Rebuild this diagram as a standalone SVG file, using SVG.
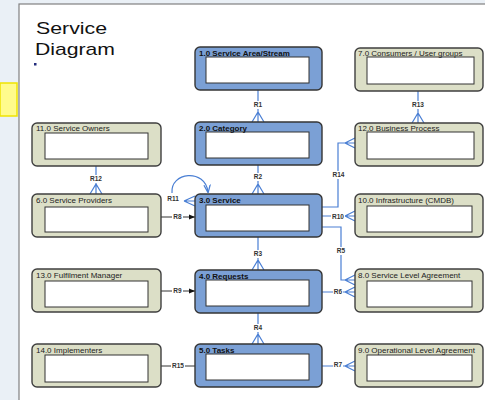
<svg xmlns="http://www.w3.org/2000/svg" width="485" height="400" viewBox="0 0 485 400" xml:space="preserve">
  <defs>
    <style>
      .blue { fill: #7ba0d5; stroke: #353535; stroke-width: 1.4; }
      .green { fill: #dcdfc7; stroke: #3f3f3f; stroke-width: 1.4; }
      .inner { fill: #ffffff; stroke: #333333; stroke-width: 1; }
      .bt { font-family: "Liberation Sans", Arial, sans-serif; font-size: 8px; font-weight: bold; fill: #111; }
      .gt { font-family: "Liberation Sans", Arial, sans-serif; font-size: 8px; fill: #222; }
      .rel { fill: none; stroke: #4a7fd4; stroke-width: 1.2; }
      .arr { fill: none; stroke: #333; stroke-width: 1; }
      .lbl { font-family: "Liberation Sans", Arial, sans-serif; font-size: 6.5px; font-weight: bold; fill: #333; text-anchor: middle; }
      .lblbg { fill: #ffffff; }
    </style>
    <marker id="tip" viewBox="0 0 10 10" refX="10" refY="5" markerWidth="6" markerHeight="6" orient="auto" markerUnits="userSpaceOnUse">
      <path d="M0,1 L10,5 L0,9 Z" fill="#111"/>
    </marker>
    <marker id="tipBlue" viewBox="0 0 10 10" refX="9" refY="5" markerWidth="8" markerHeight="8" orient="auto" markerUnits="userSpaceOnUse">
      <path d="M0,1 L10,5 L0,9" fill="none" stroke="#4a7fd4" stroke-width="1.6"/>
    </marker>
  </defs>

  <!-- page backdrop and frame -->
  <rect x="0" y="0" width="485" height="400" fill="#eaf0f6"/>
  <rect x="19" y="4" width="470" height="400" fill="#ffffff" stroke="#808080" stroke-width="1.2"/>
  <rect x="0" y="83" width="17" height="33" fill="#fffb8c" stroke="#f0e400" stroke-width="1.5"/>

  <!-- title -->
  <text x="36" y="34" font-family="'Liberation Sans', Arial, sans-serif" font-size="17" fill="#111" textLength="71" lengthAdjust="spacingAndGlyphs">Service</text>
  <text x="35" y="55" font-family="'Liberation Sans', Arial, sans-serif" font-size="17" fill="#111" textLength="80" lengthAdjust="spacingAndGlyphs">Diagram</text>
  <rect x="34" y="63" width="2.5" height="2.5" fill="#232c7c"/>

  <!-- connectors -->
  <g id="connectors">
    <!-- vertical relations in the centre column -->
    <path class="rel" d="M258,90 V122 M252,122 L258,112 L264,122"/>
    <path class="rel" d="M258,165 V194 M252,194 L258,184 L264,194"/>
    <path class="rel" d="M258,237 V270 M252,270 L258,260 L264,270"/>
    <path class="rel" d="M258,313 V344 M252,344 L258,334 L264,344"/>
    <!-- R12 -->
    <path class="rel" d="M96,166 V194 M90,194 L96,184 L102,194"/>
    <!-- R13 -->
    <path class="rel" d="M418,91 V123 M412,123 L418,113 L424,123"/>
    <!-- R14 -->
    <path class="rel" d="M322,207 H338 V143 H355 M355,138 L345,143 L355,148"/>
    <!-- R10 -->
    <path class="rel" d="M322,216 H355 M355,211 L345,216 L355,221"/>
    <!-- R5 -->
    <path class="rel" d="M322,227 H341 V280 H355 M355,275 L345,280 L355,285"/>
    <!-- R6 -->
    <path class="rel" d="M322,292 H355 M355,287 L345,292 L355,297"/>
    <!-- R7 -->
    <path class="rel" d="M322,366 H355 M355,361 L345,366 L355,371"/>
    <!-- R11 self relation -->
    <path class="rel" d="M184,201 L195,196 M184,201 H195 M184,201 L195,206"/>
    <path class="rel" d="M172,193 C170,172 205,168 208,192" marker-end="url(#tipBlue)"/>
    <!-- R8, R9, R15 -->
    <path class="arr" d="M161,217 H195" marker-end="url(#tip)"/>
    <path class="arr" d="M161,291 H195" marker-end="url(#tip)"/>
    <path class="arr" d="M161,366 H195"/>

    <!-- relation labels -->
    <rect class="lblbg" x="252" y="101" width="12" height="8"/>
    <text class="lbl" x="258" y="107">R1</text>
    <rect class="lblbg" x="252" y="173" width="12" height="8"/>
    <text class="lbl" x="258" y="179">R2</text>
    <rect class="lblbg" x="252" y="250" width="12" height="8"/>
    <text class="lbl" x="258" y="256">R3</text>
    <rect class="lblbg" x="252" y="324" width="12" height="8"/>
    <text class="lbl" x="258" y="330">R4</text>
    <rect class="lblbg" x="89" y="175" width="14" height="8"/>
    <text class="lbl" x="96" y="181">R12</text>
    <rect class="lblbg" x="411" y="101" width="14" height="8"/>
    <text class="lbl" x="418" y="107">R13</text>
    <rect class="lblbg" x="331" y="171" width="15" height="8"/>
    <text class="lbl" x="338.5" y="177">R14</text>
    <rect class="lblbg" x="331" y="212" width="14" height="8"/>
    <text class="lbl" x="338" y="219">R10</text>
    <rect class="lblbg" x="336" y="247" width="10" height="8"/>
    <text class="lbl" x="341" y="253">R5</text>
    <rect class="lblbg" x="333" y="288" width="10" height="8"/>
    <text class="lbl" x="338" y="294">R6</text>
    <rect class="lblbg" x="333" y="362" width="10" height="8"/>
    <text class="lbl" x="338" y="367">R7</text>
    <text class="lbl" x="173" y="201">R11</text>
    <rect class="lblbg" x="172" y="213" width="11" height="8"/>
    <text class="lbl" x="177.5" y="219">R8</text>
    <rect class="lblbg" x="172" y="287" width="11" height="8"/>
    <text class="lbl" x="177.5" y="293">R9</text>
    <rect class="lblbg" x="171" y="362" width="14" height="8"/>
    <text class="lbl" x="178" y="368">R15</text>
  </g>

  <!-- centre column -->
  <g id="n1">
    <rect class="blue" x="195" y="47" width="127" height="43" rx="5"/>
    <rect class="inner" x="206" y="57" width="103" height="26"/>
    <text class="bt" x="199" y="55.5">1.0  Service Area/Stream</text>
  </g>
  <g id="n2">
    <rect class="blue" x="195" y="122" width="127" height="43" rx="5"/>
    <rect class="inner" x="206" y="132" width="103" height="26"/>
    <text class="bt" x="199" y="130.5">2.0  Category</text>
  </g>
  <g id="n3">
    <rect class="blue" x="195" y="194" width="127" height="43" rx="5"/>
    <rect class="inner" x="206" y="205" width="103" height="26"/>
    <text class="bt" x="199" y="202.5">3.0  Service</text>
  </g>
  <g id="n4">
    <rect class="blue" x="195" y="270" width="127" height="43" rx="5"/>
    <rect class="inner" x="206" y="280" width="103" height="26"/>
    <text class="bt" x="199" y="278.5">4.0  Requests</text>
  </g>
  <g id="n5">
    <rect class="blue" x="195" y="344" width="127" height="43" rx="5"/>
    <rect class="inner" x="206" y="354" width="103" height="26"/>
    <text class="bt" x="199" y="352.5">5.0  Tasks</text>
  </g>

  <!-- left column -->
  <g id="n11">
    <rect class="green" x="32" y="123" width="129" height="43" rx="5"/>
    <rect class="inner" x="45" y="133" width="103" height="26"/>
    <text class="gt" x="36" y="131">11.0  Service Owners</text>
  </g>
  <g id="n6">
    <rect class="green" x="32" y="194" width="129" height="43" rx="5"/>
    <rect class="inner" x="45" y="207" width="103" height="25"/>
    <text class="gt" x="36" y="202.5">6.0  Service Providers</text>
  </g>
  <g id="n13">
    <rect class="green" x="32" y="269" width="129" height="43" rx="5"/>
    <rect class="inner" x="45" y="281" width="103" height="26"/>
    <text class="gt" x="36" y="277.5">13.0  Fulfilment Manager</text>
  </g>
  <g id="n14">
    <rect class="green" x="32" y="344" width="129" height="43" rx="5"/>
    <rect class="inner" x="45" y="355" width="103" height="27"/>
    <text class="gt" x="36" y="352.5">14.0  Implementers</text>
  </g>

  <!-- right column -->
  <g id="n7">
    <rect class="green" x="355" y="48" width="128" height="43" rx="5"/>
    <rect class="inner" x="367" y="57" width="107" height="27"/>
    <text class="gt" x="358" y="56">7.0  Consumers / User groups</text>
  </g>
  <g id="n12">
    <rect class="green" x="355" y="123" width="128" height="43" rx="5"/>
    <rect class="inner" x="367" y="132" width="107" height="27"/>
    <text class="gt" x="358" y="131">12.0  Business Process</text>
  </g>
  <g id="n10">
    <rect class="green" x="355" y="194" width="128" height="43" rx="5"/>
    <rect class="inner" x="367" y="206" width="105" height="26"/>
    <text class="gt" x="358" y="202.5">10.0  Infrastructure (CMDB)</text>
  </g>
  <g id="n8">
    <rect class="green" x="355" y="269" width="128" height="43" rx="5"/>
    <rect class="inner" x="367" y="281" width="105" height="26"/>
    <text class="gt" x="358" y="277.5">8.0  Service Level Agreement</text>
  </g>
  <g id="n9">
    <rect class="green" x="355" y="344" width="128" height="43" rx="5"/>
    <rect class="inner" x="367" y="355" width="105" height="26"/>
    <text class="gt" x="358" y="352.5">9.0  Operational Level Agreement</text>
  </g>
</svg>
